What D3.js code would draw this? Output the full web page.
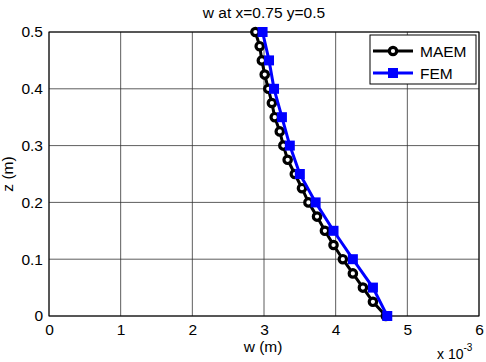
<!DOCTYPE html>
<html>
<head>
<meta charset="utf-8">
<script src="https://d3js.org/d3.v7.min.js"></script>
<style>
body { margin: 0; background: #fff; }
text { font-family: "Liberation Sans", Arial, sans-serif; }
</style>
</head>
<body>
<svg id="svg" width="486" height="362"></svg>
<script>
// w values in units of 1e-3 m
var zMaem = [0, 0.025, 0.05, 0.075, 0.1, 0.125, 0.15, 0.175, 0.2, 0.225, 0.25,
             0.275, 0.3, 0.325, 0.35, 0.375, 0.4, 0.425, 0.45, 0.475, 0.5];
var wMaem = [4.70, 4.52, 4.38, 4.24, 4.10, 3.97, 3.85, 3.74, 3.62, 3.53, 3.43,
             3.33, 3.27, 3.22, 3.15, 3.11, 3.06, 3.01, 2.97, 2.94, 2.88];
var zFem = [0, 0.05, 0.1, 0.15, 0.2, 0.25, 0.3, 0.35, 0.4, 0.45, 0.5];
var wFem = [4.72, 4.52, 4.24, 3.97, 3.72, 3.50, 3.36, 3.25, 3.14, 3.07, 2.98];
var xTicks = [0, 1, 2, 3, 4, 5, 6];
var yTicks = [0, 0.1, 0.2, 0.3, 0.4, 0.5];

var svg = d3.select("#svg");
var L = 49, R = 479, T = 32, B = 316;
var fs = 15.5;
var x = d3.scaleLinear().domain([0, 6]).range([L, R]);
var y = d3.scaleLinear().domain([0, 0.5]).range([B, T]);

// grid
svg.append("g").selectAll("line").data(xTicks).enter().append("line")
  .attr("x1", d => x(d)).attr("x2", d => x(d)).attr("y1", T).attr("y2", B)
  .attr("stroke", "#333").attr("stroke-width", 0.8);
svg.append("g").selectAll("line").data(yTicks).enter().append("line")
  .attr("y1", d => y(d)).attr("y2", d => y(d)).attr("x1", L).attr("x2", R)
  .attr("stroke", "#333").attr("stroke-width", 0.8);

// axes
var xa = svg.append("g").attr("transform", "translate(0," + B + ")")
  .call(d3.axisBottom(x).tickValues(xTicks).tickFormat(d3.format("d")).tickSize(0).tickPadding(8));
var ya = svg.append("g").attr("transform", "translate(" + L + ",0)")
  .call(d3.axisLeft(y).tickValues(yTicks).tickFormat(d => d === 0 ? "0" : d3.format(".1f")(d)).tickSize(0).tickPadding(6));
[xa, ya].forEach(function(a) {
  a.select(".domain").remove();
  a.selectAll("text").attr("font-size", fs).attr("fill", "#000")
    .style("font-family", "Liberation Sans, Arial, sans-serif");
});
svg.append("rect").attr("x", L).attr("y", T).attr("width", R - L).attr("height", B - T)
  .attr("fill", "none").attr("stroke", "#000").attr("stroke-width", 1);

var line = d3.line();
var maem = zMaem.map((z, i) => [x(wMaem[i]), y(z)]);
var fem = zFem.map((z, i) => [x(wFem[i]), y(z)]);

svg.append("path").attr("d", line(maem)).attr("fill", "none")
  .attr("stroke", "#000").attr("stroke-width", 3);
svg.append("g").selectAll("circle").data(maem).enter().append("circle")
  .attr("cx", d => d[0]).attr("cy", d => d[1]).attr("r", 3.7)
  .attr("fill", "#fff").attr("stroke", "#000").attr("stroke-width", 3.2);

svg.append("path").attr("d", line(fem)).attr("fill", "none")
  .attr("stroke", "#0000ff").attr("stroke-width", 3);
svg.append("g").selectAll("rect").data(fem).enter().append("rect")
  .attr("x", d => d[0] - 5).attr("y", d => d[1] - 5).attr("width", 10).attr("height", 10)
  .attr("fill", "#0000ff");

// labels
svg.append("text").attr("x", 264).attr("y", 18).attr("text-anchor", "middle")
  .attr("font-size", fs).text("w at x=0.75 y=0.5");
svg.append("text").attr("x", 263).attr("y", 352).attr("text-anchor", "middle")
  .attr("font-size", fs).text("w (m)");
svg.append("text").attr("transform", "translate(13,174) rotate(-90)").attr("text-anchor", "middle")
  .attr("font-size", fs).text("z (m)");
var ex = svg.append("text").attr("x", 437).attr("y", 359).attr("font-size", 14).text("x 10");
ex.append("tspan").attr("dy", -8).attr("font-size", 10).text("-3");

// legend
var lg = svg.append("g").attr("transform", "translate(370,35)");
lg.append("rect").attr("width", 106).attr("height", 49).attr("fill", "#fff")
  .attr("stroke", "#000").attr("stroke-width", 1);
var items = [["MAEM", "#000", "o"], ["FEM", "#0000ff", "s"]];
items.forEach(function(it, i) {
  var yy = 16 + i * 22;
  lg.append("line").attr("x1", 3).attr("x2", 43).attr("y1", yy).attr("y2", yy)
    .attr("stroke", it[1]).attr("stroke-width", 3);
  if (it[2] === "o") {
    lg.append("circle").attr("cx", 23).attr("cy", yy).attr("r", 3.7)
      .attr("fill", "#fff").attr("stroke", "#000").attr("stroke-width", 3.2);
  } else {
    lg.append("rect").attr("x", 18).attr("y", yy - 5).attr("width", 10).attr("height", 10)
      .attr("fill", "#0000ff");
  }
  lg.append("text").attr("x", 50).attr("y", yy + 6).attr("font-size", fs).text(it[0]);
});
</script>
</body>
</html>
